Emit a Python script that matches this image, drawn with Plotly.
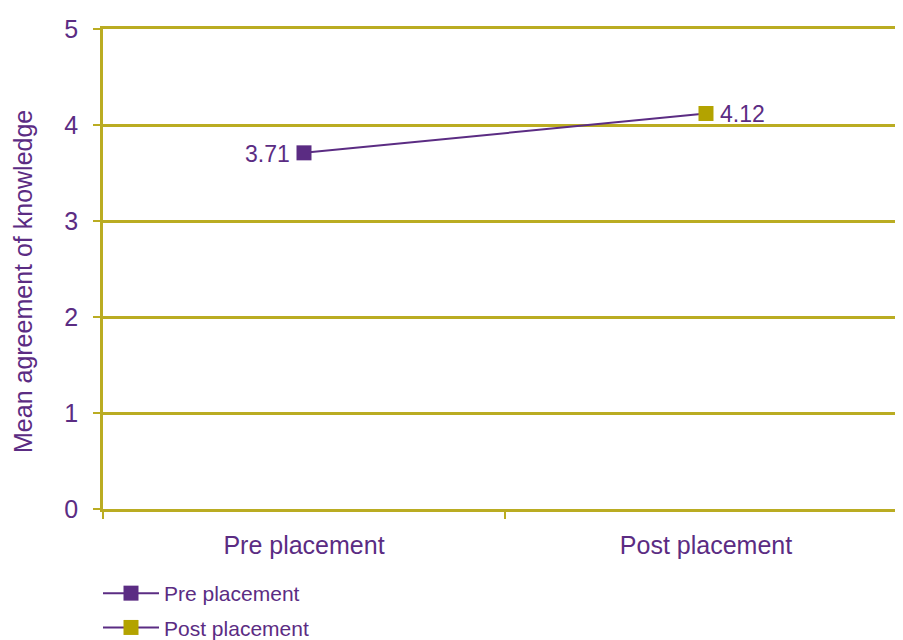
import plotly.graph_objects as go

categories = ["Pre placement", "Post placement"]
means = [3.71, 4.12]
labels = ["3.71", "4.12"]
marker_colors = ["#5B2C83", "#B3A300"]
label_sides = ["left", "right"]
y_ticks = [0, 1, 2, 3, 4, 5]
y_title = "Mean agreement of knowledge"

PURPLE = "#5B2C83"
OLIVE = "#BAAC22"
FONT = "Liberation Sans, Arial, sans-serif"

W, H = 903, 632
L, T, B = 95, 21, 131

fig = go.Figure()
fig.add_trace(go.Scatter(
    x=categories, y=means, mode="lines",
    line=dict(color=PURPLE, width=2), showlegend=False, hoverinfo="skip"))
for i, cat in enumerate(categories):
    fig.add_trace(go.Scatter(
        x=[cat], y=[means[i]], mode="lines+markers", name=cat,
        line=dict(color=PURPLE, width=2),
        marker=dict(symbol="square", size=15, color=marker_colors[i]),
        legendgroup=cat))
    side = label_sides[i]
    fig.add_annotation(
        x=cat, y=means[i], text=labels[i], showarrow=False,
        xanchor="right" if side == "left" else "left",
        xshift=-12 if side == "left" else 12, yshift=-1,
        font=dict(color=PURPLE, size=23, family=FONT))

plot_h = H - T - B
fig.add_annotation(
    text=y_title, textangle=-90, showarrow=False,
    xref="paper", yref="paper", x=(23 - 103) / 808, y=(H - B - 274) / plot_h,
    xanchor="center", yanchor="middle",
    font=dict(size=25, color=PURPLE, family=FONT))

fig.update_layout(
    width=W, height=H,
    margin=dict(l=L, r=0, t=T, b=B, autoexpand=False),
    plot_bgcolor="white", paper_bgcolor="white",
    font=dict(family=FONT, color=PURPLE),
    showlegend=True,
    legend=dict(x=90 / W, xref="container", xanchor="left",
                y=1 - 565 / H, yref="container", yanchor="top",
                font=dict(size=21, color=PURPLE, family=FONT),
                orientation="v", tracegroupgap=4, itemwidth=56,
                bgcolor="rgba(0,0,0,0)"),
)
fig.update_xaxes(
    type="category", range=[-0.5, 1.51], automargin=False,
    tickson="boundaries", ticks="outside", ticklen=7, tickcolor=OLIVE, tickwidth=2,
    showgrid=False, showline=True, linecolor=OLIVE, linewidth=2.5, mirror=True,
    zeroline=False, ticklabelstandoff=12,
    tickfont=dict(size=25, color=PURPLE, family=FONT))
fig.update_yaxes(
    range=[0, 5], tickvals=y_ticks, ticks="outside", ticklen=7, tickcolor=OLIVE, tickwidth=2,
    showgrid=True, gridcolor=OLIVE, gridwidth=2.5, automargin=False,
    showline=True, linecolor=OLIVE, linewidth=2.5, zeroline=False,
    ticklabelstandoff=10,
    tickfont=dict(size=25, color=PURPLE, family=FONT))

fig.write_html("out.html")
